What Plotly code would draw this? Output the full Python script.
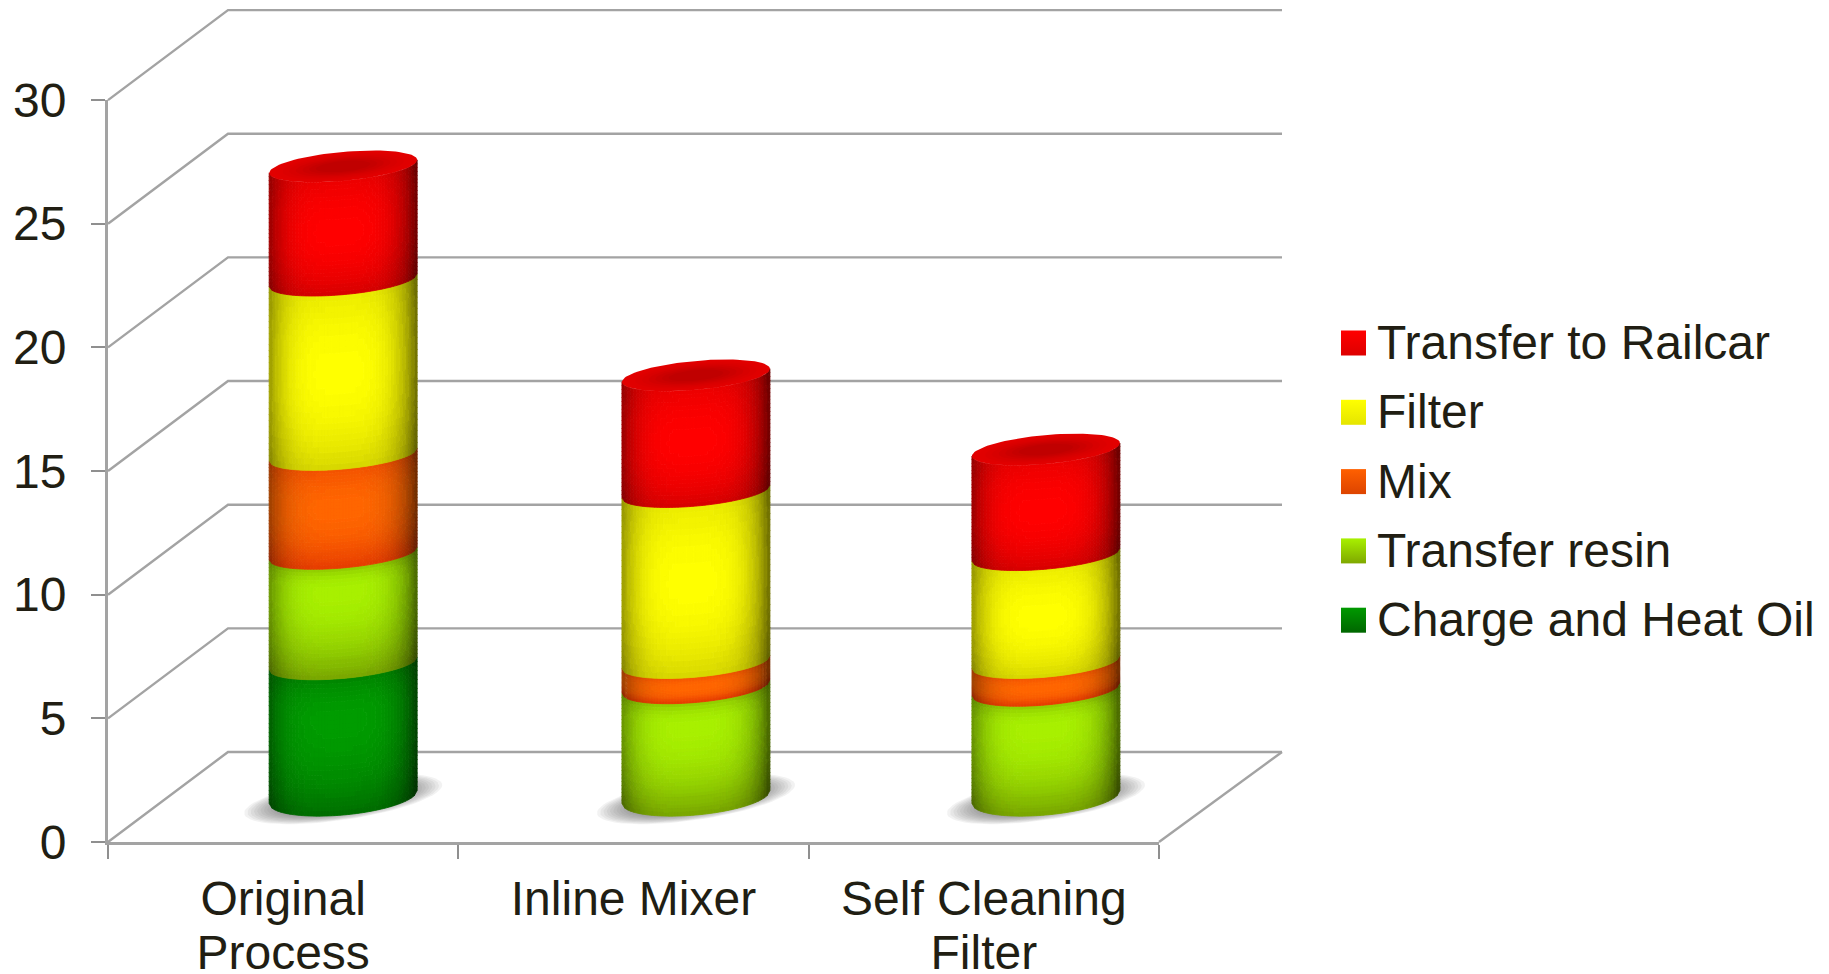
import numpy as np
import plotly.graph_objects as go

# Stacked process times per configuration, bottom segment first
categories = [["Original", "Process"], ["Inline Mixer"], ["Self Cleaning", "Filter"]]
series_names = ["Charge and Heat Oil", "Transfer resin", "Mix", "Filter", "Transfer to Railcar"]
charge_heat_oil = [5.4, 0.0, 0.0]
transfer_resin = [4.45, 4.45, 4.35]
mix = [4.0, 1.0, 1.1]
filter_step = [7.05, 6.9, 4.35]
transfer_railcar = [4.6, 4.7, 4.25]
series_values = [charge_heat_oil, transfer_resin, mix, filter_step, transfer_railcar]
value_ticks = [0, 5, 10, 15, 20, 25, 30]

# Brightest and darkest body colour of each series
series_colors = [
    ((0, 156, 0), (0, 110, 0)),
    ((168, 240, 0), (120, 165, 0)),
    ((255, 102, 0), (230, 60, 0)),
    ((255, 255, 0), (215, 215, 0)),
    ((255, 0, 0), (215, 0, 0)),
]
# Height within a segment where each series is brightest (0 = top, 1 = bottom)
series_peak = [0.3, 0.2, 0.4, 0.45, 0.45]
# Legend swatch gradient ends
swatch_colors = [
    ("#009900", "#006600"),
    ("#a8f000", "#7fa800"),
    ("#ff6000", "#dd4400"),
    ("#ffff00", "#e5e500"),
    ("#ff0000", "#dd0000"),
]

# Plot geometry: pixels per axis unit and the oblique depth offset
PX_X, PX_Y = 350.33, 24.73
X0_PX, Y0_PX = 108, 842
W, H = 1829, 974
DEPTH_X, DEPTH_Y = 120 / PX_X, 90 / PX_Y
BAR_X = [0.5, 1.507, 2.506]
HALF_W = 74 / PX_X
FONT = "Liberation Sans"
FONT_SIZE = 48
TEXT = "#211e13"
GRID = "#a3a3a3"
TICK = "#8f8f8f"


def css(rgb):
    return "rgb(%d,%d,%d)" % tuple(rgb)


def skew(v):
    return 6.5 / PX_Y


def bulge(v):
    # Ellipses open up slightly toward the floor
    return float(np.interp(v, [DEPTH_Y / 2, 8.0], [18.0, 14.5])) / PX_Y


def front_arc(u, v):
    return v + skew(v) * u - bulge(v) * np.sqrt(np.clip(1 - u * u, 0, 1))


def shade(u):
    return 0.52 + 0.48 * (1 - abs(u + 0.05) ** 4)


def vertical_mix(w, peak):
    if w < peak:
        return 0.5 * ((peak - w) / peak) ** 2
    return ((w - peak) / (1 - peak)) ** 2


def mix_rgb(a, b, w):
    return tuple(a[i] + (b[i] - a[i]) * w for i in range(3))


fig = go.Figure()

# Back wall and side wall gridlines, then the floor edge
wall_x, wall_y = [], []
right_end = 3 + DEPTH_X + 3 / PX_X
for t in value_ticks:
    wall_x += [0, DEPTH_X, right_end, None]
    wall_y += [t, t + DEPTH_Y, t + DEPTH_Y, None]
wall_x += [3, right_end, None]
wall_y += [0, DEPTH_Y, None]
fig.add_trace(go.Scatter(x=wall_x, y=wall_y, mode="lines", line=dict(color=GRID, width=2.4),
                         hoverinfo="skip", showlegend=False))

# Soft contact shadows under each cylinder
for cx in BAR_X:
    mid = cx + DEPTH_X / 2
    base = DEPTH_Y / 2 - 2 / PX_Y
    for k in range(18):
        f = 1 - k / 30
        t = np.linspace(0, 2 * np.pi, 73)
        fig.add_trace(go.Scatter(
            x=mid + 99 / PX_X * f * np.cos(t),
            y=base + 14 / PX_Y * f * np.cos(t) + 21 / PX_Y * f * np.sin(t),
            mode="lines", fill="toself", line=dict(width=0), fillcolor="rgba(100,100,100,0.085)",
            hoverinfo="skip", showlegend=False))

# Cylinder bodies: cells across the width shaded to suggest curvature
N_U, N_V = 50, 30
cells = {}
edges = np.linspace(-1, 1, N_U + 1)
for c, cx in enumerate(BAR_X):
    mid = cx + DEPTH_X / 2
    bottom = DEPTH_Y / 2
    for s, values in enumerate(series_values):
        val = values[c]
        if val <= 0:
            continue
        top = bottom + val
        levels = np.linspace(top, bottom, N_V + 1)
        for j in range(N_V):
            w = (j + 0.5) / N_V
            base_rgb = mix_rgb(series_colors[s][0], series_colors[s][1], vertical_mix(w, series_peak[s]))
            for i in range(N_U):
                u0, u1 = edges[i], edges[i + 1]
                f = shade((u0 + u1) / 2)
                rgb = tuple(min(255, int(round(ch * f / 3) * 3)) for ch in base_rgb)
                hi, lo = levels[j], levels[j + 1]
                xs = mid + HALF_W * np.array([u0, u1, u1, u0, u0])
                ys = [front_arc(u0, hi), front_arc(u1, hi), front_arc(u1, lo), front_arc(u0, lo), front_arc(u0, hi)]
                bucket = cells.setdefault(rgb, ([], []))
                bucket[0].extend([round(float(x), 4) for x in xs] + [None])
                bucket[1].extend([round(float(y), 4) for y in ys] + [None])
        bottom = top

for rgb, (xs, ys) in cells.items():
    col = css(rgb)
    fig.add_trace(go.Scatter(x=xs, y=ys, mode="lines", fill="toself", fillcolor=col,
                             line=dict(color=col, width=0.8), hoverinfo="skip", showlegend=False))

# Top caps: nested ellipses darkening toward the centre
cap_shades = [(226, 0, 0), (224, 0, 0), (220, 0, 0), (216, 0, 0), (210, 0, 0), (204, 0, 0), (198, 0, 0), (192, 0, 0)]
for c, cx in enumerate(BAR_X):
    mid = cx + DEPTH_X / 2
    total = DEPTH_Y / 2 + sum(values[c] for values in series_values)
    t = np.linspace(0, 2 * np.pi, 97)
    for k, col in enumerate(cap_shades):
        f = 1 - 0.09 * k
        fig.add_trace(go.Scatter(
            x=mid + HALF_W * f * np.cos(t),
            y=total + skew(total) * f * np.cos(t) + bulge(total) * f * np.sin(t),
            mode="lines", fill="toself", fillcolor=css(col),
            line=dict(width=0), hoverinfo="skip", showlegend=False))

# Category labels, one text row per line
lab_x, lab_y, lab_t = [], [], []
for i, lines in enumerate(categories):
    for n, line in enumerate(lines):
        lab_x.append(i + 0.5)
        lab_y.append((Y0_PX - (903 + 54 * n)) / PX_Y)
        lab_t.append(line)
fig.add_trace(go.Scatter(x=lab_x, y=lab_y, text=lab_t, mode="text", textposition="middle center",
                         textfont=dict(family=FONT, size=FONT_SIZE, color=TEXT),
                         hoverinfo="skip", showlegend=False))

# Legend rows, top of the stack listed first
swatch_x = (1353.5 - X0_PX) / PX_X
label_x = (1377 - X0_PX) / PX_X
for row, s in enumerate(reversed(range(len(series_names)))):
    y = (Y0_PX - (343 + 69.3 * row)) / PX_Y
    fig.add_trace(go.Scatter(
        x=[swatch_x], y=[y], mode="markers", hoverinfo="skip", showlegend=False,
        marker=dict(symbol="square", size=25, color=swatch_colors[s][0],
                    gradient=dict(type="vertical", color=swatch_colors[s][1]), line=dict(width=0))))
    fig.add_trace(go.Scatter(
        x=[label_x], y=[y - 4 / PX_Y], text=[series_names[s]], mode="text", textposition="middle right",
        textfont=dict(family=FONT, size=FONT_SIZE, color=TEXT), hoverinfo="skip", showlegend=False))

# Axes carrying the value ticks and the category tick marks
fig.add_trace(go.Scatter(x=[None], y=[None], xaxis="x2", yaxis="y2", hoverinfo="skip", showlegend=False))

fig.update_layout(
    template="none",
    width=W, height=H, margin=dict(l=0, r=0, t=0, b=0, pad=0, autoexpand=False),
    paper_bgcolor="white", plot_bgcolor="rgba(0,0,0,0)", showlegend=False,
    xaxis=dict(visible=False, range=[-X0_PX / PX_X, (W - X0_PX) / PX_X], fixedrange=True, automargin=False),
    yaxis=dict(visible=False, range=[(Y0_PX - H) / PX_Y, Y0_PX / PX_Y], fixedrange=True, automargin=False),
    xaxis2=dict(domain=[X0_PX / W, 1159 / W], range=[0, 3], anchor="y2", showgrid=False, zeroline=False,
                showline=True, linecolor=GRID, linewidth=3, showticklabels=False, ticks="outside",
                tickvals=[0, 1, 2, 3], ticklen=14, tickcolor=TICK, tickwidth=2, fixedrange=True,
                automargin=False),
    yaxis2=dict(domain=[(H - Y0_PX) / H, (H - 100) / H], range=[0, 30], anchor="x2", showgrid=False,
                zeroline=False, showline=True, linecolor=GRID, linewidth=3, tickvals=value_ticks,
                ticks="outside", ticklen=14, tickcolor=TICK, tickwidth=2, ticklabelstandoff=15,
                tickfont=dict(family=FONT, size=FONT_SIZE, color=TEXT), fixedrange=True, automargin=False),
)

fig.write_html("out.html")
